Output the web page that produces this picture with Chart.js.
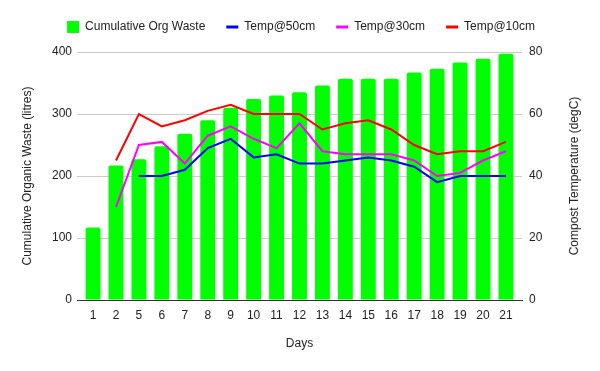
<!DOCTYPE html>
<html>
<head>
<meta charset="utf-8">
<script src="https://cdn.jsdelivr.net/npm/chart.js@4/dist/chart.umd.min.js"></script>
<style>
html,body{margin:0;padding:0;background:#fff;}
#wrap{width:600px;height:371px;position:relative;}
</style>
</head>
<body>
<div id="wrap"><canvas id="c" width="600" height="371"></canvas></div>
<script>
const days = ['1','2','5','6','7','8','9','10','11','12','13','14','15','16','17','18','19','20','21'];
const cumulativeWaste = [117,217,227,248,268,290,310,324,330,335,346,357,357,357,367,373,383,389,397];
const temp50 = [null,null,40,40,42,49,52,46,47,44,44,45,46,45,43,38,40,40,40];
const temp30 = [null,30,50,51,44,53,56,52,49,57,48,47,47,47,45,40,41,45,48];
const temp10 = [null,45,60,56,58,61,63,60,60,60,55,57,58,55,50,47,48,48,51];
const leftTicks = [0,100,200,300,400];
const rightTicks = [0,20,40,60,80];
const rightTitle = 'Compost Temperature (degC)';

Chart.defaults.font.family = 'Arial, "Liberation Sans", sans-serif';
Chart.defaults.font.size = 12;
Chart.defaults.color = '#222';

const legendSpacer = {
  id: 'legendSpacer',
  beforeLayout(chart) {
    const lg = chart.legend;
    if (lg && !lg._wrapped) {
      const orig = lg.fit.bind(lg);
      lg.fit = function() { orig(); this.height += 9; };
      lg._wrapped = true;
    }
  }
};

const rightTitlePlugin = {
  id: 'rightTitle',
  afterDraw(chart) {
    const ctx = chart.ctx;
    const a = chart.chartArea;
    ctx.save();
    ctx.translate(575, (a.top + a.bottom) / 2);
    ctx.rotate(-Math.PI / 2);
    ctx.fillStyle = '#222';
    ctx.font = '12px Arial, "Liberation Sans", sans-serif';
    ctx.textAlign = 'center';
    ctx.textBaseline = 'middle';
    ctx.fillText(rightTitle, 0, 0);
    ctx.restore();
  }
};

new Chart(document.getElementById('c'), {
  data: {
    labels: days,
    datasets: [
      {type:'line', label:'Temp@50cm', data: temp50, yAxisID:'y1', borderColor:'#0000ff', backgroundColor:'#0000ff', borderWidth:2, pointRadius:0, tension:0, pointStyle:'line', order:1},
      {type:'line', label:'Temp@30cm', data: temp30, yAxisID:'y1', borderColor:'#ff00ff', backgroundColor:'#ff00ff', borderWidth:2, pointRadius:0, tension:0, pointStyle:'line', order:1},
      {type:'line', label:'Temp@10cm', data: temp10, yAxisID:'y1', borderColor:'#ff0000', backgroundColor:'#ff0000', borderWidth:2, pointRadius:0, tension:0, pointStyle:'line', order:1},
      {type:'bar', label:'Cumulative Org Waste', data: cumulativeWaste, yAxisID:'y', backgroundColor:'#00ff00', borderWidth:0, borderRadius:{topLeft:2,topRight:2}, barPercentage:0.65, categoryPercentage:1, pointStyle:'rect', order:2}
    ]
  },
  options: {
    responsive:false,
    animation:false,
    layout:{padding:{left:20,right:18,top:0,bottom:20}},
    plugins:{
      legend:{
        position:'top',
        labels:{
          usePointStyle:true,
          boxWidth:12, boxHeight:12, pointStyleWidth:12,
          padding:21,
          color:'#222',
          sort:(a,b)=>{const o={'Cumulative Org Waste':0,'Temp@50cm':1,'Temp@30cm':2,'Temp@10cm':3};return o[a.text]-o[b.text];},
          generateLabels(chart){
            const items = Chart.defaults.plugins.legend.labels.generateLabels(chart);
            items.forEach(it=>{ if (it.pointStyle==='line') it.lineWidth = 3; });
            return items;
          }
        }
      },
      tooltip:{enabled:false}
    },
    scales:{
      x:{
        offset:false,
        grid:{display:false, drawTicks:false},
        border:{display:true, color:'#333', width:1},
        ticks:{padding:8, color:'#222', maxRotation:0, autoSkip:false},
        title:{display:true, text:'Days', color:'#222', font:{size:12}, padding:0},
        afterBuildTicks(s){ s._startValue = s.min - 0.7; s._valueRange = (s.max - s.min) + 1.4; },
        afterFit(s){ s.height = 51; }
      },
      y:{
        position:'left',
        min:0, max:400,
        afterBuildTicks(s){ s.ticks = leftTicks.map(v=>({value:v})); },
        grid:{color:'#cccccc', drawTicks:false},
        border:{display:false},
        ticks:{padding:5, color:'#222'},
        title:{display:true, text:'Cumulative Organic Waste (litres)', color:'#222', font:{size:12}, padding:0},
        afterFit(s){ s.width = 57; }
      },
      y1:{
        position:'right',
        min:0, max:80,
        afterBuildTicks(s){ s.ticks = rightTicks.map(v=>({value:v})); },
        grid:{display:false, drawTicks:false},
        border:{display:false},
        ticks:{padding:7, color:'#222'},
        title:{display:false},
        afterFit(s){ s.width = 60; }
      }
    }
  },
  plugins:[legendSpacer, rightTitlePlugin]
});
</script>
</body>
</html>
